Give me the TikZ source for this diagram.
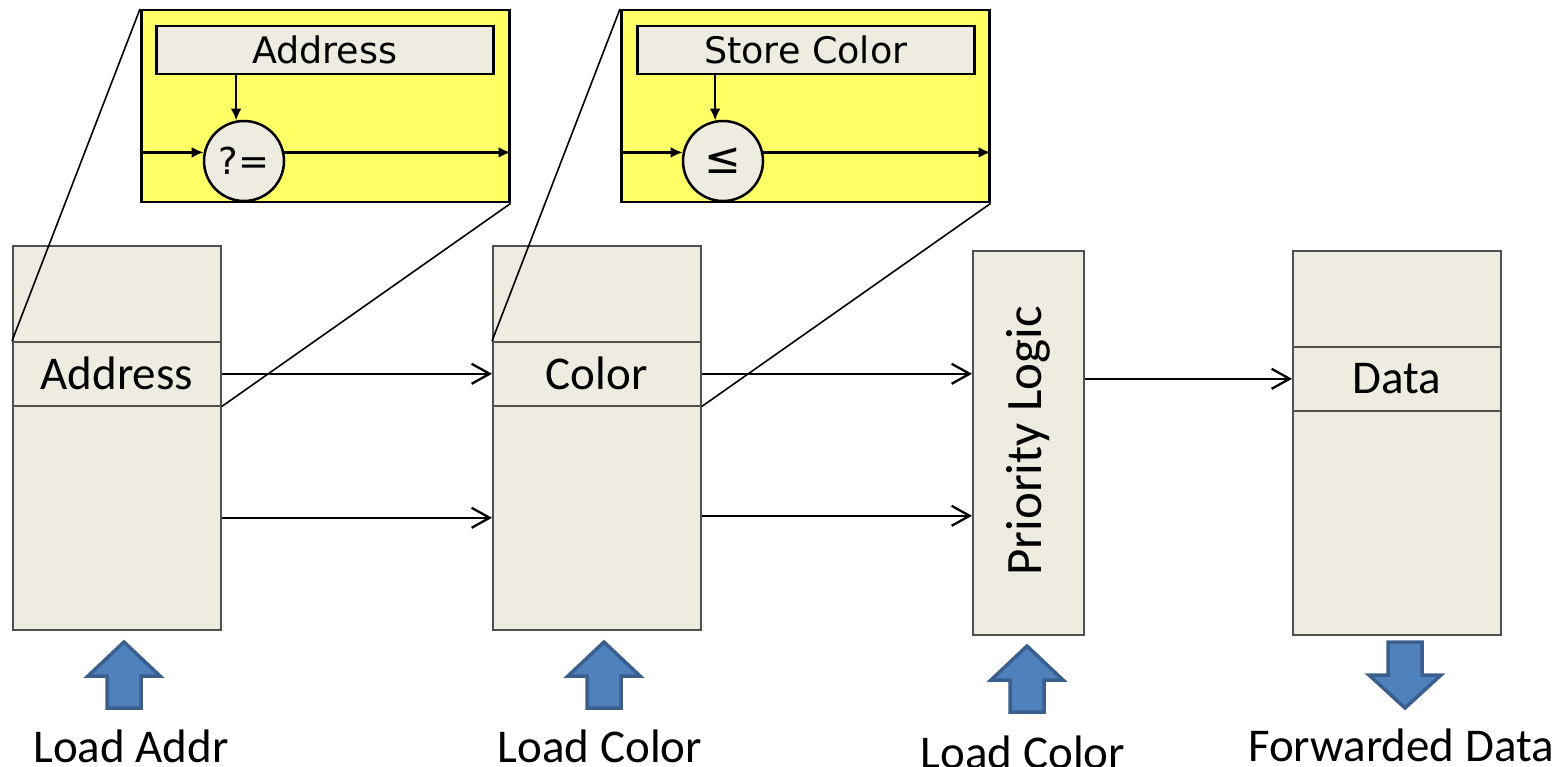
\documentclass[tikz,border=0pt]{standalone}
\usepackage{fontspec}
\setmainfont{Carlito}
\newfontfamily\insetfont{DejaVu Sans}
\usetikzlibrary{arrows.meta}

\definecolor{regfill}{HTML}{EEECE1}
\definecolor{regline}{HTML}{505050}
\definecolor{zoomfill}{HTML}{FFFF66}
\definecolor{bluefill}{HTML}{4F81BD}
\definecolor{blueline}{HTML}{3A5F8E}

\tikzset{
  reg/.style={draw=regline, fill=regfill, line width=1.6pt, anchor=north west,
    inner sep=0pt, minimum width=208, minimum height=384},
  field/.style={draw=regline, fill=regfill, line width=1.6pt, anchor=north west,
    inner sep=0pt, minimum width=208, minimum height=64,
    font=\fontsize{47}{56}\selectfont},
  logicbox/.style={draw=regline, fill=regfill, line width=1.6pt, anchor=north west,
    inner sep=0pt, minimum width=111, minimum height=384},
  conn/.style={line width=2.3pt, -{Straight Barb[length=18pt, width=20pt, line width=2.3pt]}},
  zoomline/.style={line width=1.6pt},
  inset/.style={draw=black, fill=zoomfill, line width=2.5pt, anchor=north west,
    inner sep=0pt, minimum width=368, minimum height=192},
  insetfield/.style={draw=black, fill=regfill, line width=2.5pt, anchor=north west,
    inner sep=0pt, minimum width=337, minimum height=48,
    font=\fontsize{36.5}{44}\insetfont},
  cmp/.style={circle, draw=black, fill=regfill, line width=2.5pt, inner sep=0pt,
    minimum size=80, font=\fontsize{37}{44}\insetfont},
  inarrow/.style={line width=2.5pt, -{Latex[length=12pt, width=11pt]}},
  lbl/.style={anchor=base, inner sep=0pt, font=\fontsize{47}{56}\selectfont},
  blockarrow/.style={draw=blueline, fill=bluefill, line width=3.5pt, line join=miter},
  uparrow/.pic={
    \path[blockarrow] (0,3) -- (36,37) -- (17,37) -- (17,69) -- (-17,69)
      -- (-17,37) -- (-36,37) -- cycle;
  },
  downarrow/.pic={
    \path[blockarrow] (-17,2) -- (17,2) -- (17,35) -- (36,35) -- (0,68)
      -- (-36,35) -- (-17,35) -- cycle;
  },
}

\begin{document}
\begin{tikzpicture}[x=1pt, y=-1pt]
\useasboundingbox (0,0) rectangle (1559,767);

% load queue: address column
\node[reg] (r1) at (12,245) {};
\node[field] (f1) at (12,341) {Address};

% load queue: color column
\node[reg] (r2) at (492,245) {};
\node[field] (f2) at (492,341) {Color};

% priority logic
\node[logicbox] (pl) at (972,250) {};
\node[rotate=90, font=\fontsize{51}{60}\selectfont] (pltext) at ([yshift=2pt]pl.center) {Priority Logic};

% forwarded data column
\node[reg] (r4) at (1292,250) {};
\node[field] (f4) at (1292,346) {Data};

% data flow between stages
\draw[conn] (f1.east) -- (f2.west);
\draw[conn] ([yshift=-80pt]r1.east) -- ([yshift=-80pt]r2.west);
\draw[conn] (f2.east) -- (f2.east -| pl.west);
\draw[conn] ([yshift=-78pt]r2.east) -- ([yshift=-78pt]r2.east -| pl.west);
\draw[conn] (pl.east |- f4.west) -- (f4.west);

% magnified comparators
\node[inset] (ins1) at (140,9) {};
\node[insetfield] (ib1) at (155,25) {Address};
\node[cmp] (c1) at (244,161) {?=};
\draw[inarrow] (ib1.south -| c1.101) -- (c1.101);
\draw[inarrow] (ins1.west |- c1.168) -- (c1.168);
\draw[inarrow] (c1.12) -- (c1.12 -| ins1.east);

\node[inset] (ins2) at (620,9) {};
\node[insetfield] (ib2) at (636,25) {Store Color};
\node[cmp, font=\fontsize{44}{50}\insetfont] (c2) at (723,161) {≤};
\draw[inarrow] (ib2.south -| c2.101) -- (c2.101);
\draw[inarrow] (ins2.west |- c2.168) -- (c2.168);
\draw[inarrow] (c2.12) -- (c2.12 -| ins2.east);

% zoom guide lines
\draw[zoomline] (f1.north west) -- (ins1.north west);
\draw[zoomline] (f1.south east) -- (ins1.south east);
\draw[zoomline] (f2.north west) -- (ins2.north west);
\draw[zoomline] (f2.south east) -- (ins2.south east);

% control signals
\pic at (124,639) {uparrow};
\pic at (604,639) {uparrow};
\pic at (1027,643) {uparrow};
\pic at (1405,640) {downarrow};

\node[lbl] (lab1) at (131,762) {Load Addr};
\node[lbl] (lab2) at (600,762) {Load Color};
\node[lbl] (lab3) at (1023,768) {Load Color};
\node[lbl] (lab4) at (1401,761) {Forwarded Data};
\end{tikzpicture}
\end{document}
